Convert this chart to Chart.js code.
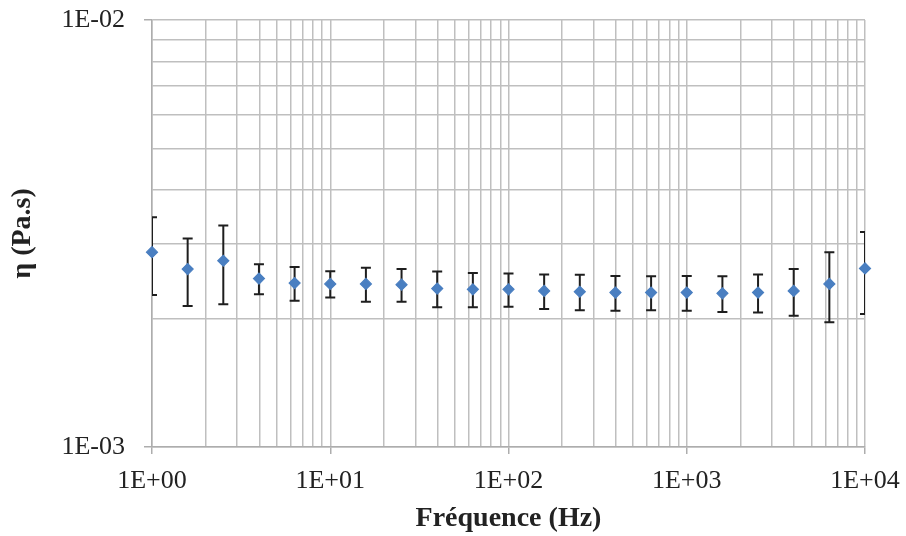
<!DOCTYPE html>
<html>
<head>
<meta charset="utf-8">
<script src="https://cdn.jsdelivr.net/npm/chart.js@4.4.1/dist/chart.umd.min.js"></script>
<style>
  html, body { margin: 0; padding: 0; background: #fff; }
  canvas { display: block; }
</style>
</head>
<body>
<canvas id="chart" width="906" height="536"></canvas>
<script>
// Fréquence (Hz) - 5 points par décade
var frequencies = [1, 1.585, 2.512, 3.981, 6.31, 10, 15.85, 25.12, 39.81, 63.1, 100,
    158.5, 251.2, 398.1, 631, 1000, 1585, 2512, 3981, 6310, 10000];

// viscosité η (Pa.s)
var viscosity = [0.00286, 0.00261, 0.00273, 0.00248, 0.00242, 0.00241, 0.00241, 0.00240, 0.00235, 0.00234, 0.00234,
    0.00232, 0.00231, 0.00230, 0.00230, 0.00230, 0.00229, 0.00230, 0.00232, 0.00241, 0.00262];

// barres d'erreur (+/-)
var viscosityError = [0.00059, 0.00047, 0.00057, 0.00020, 0.00022, 0.00017, 0.00022, 0.00021, 0.000225, 0.000215, 0.00021,
    0.000215, 0.00022, 0.000215, 0.00021, 0.000215, 0.00022, 0.000235, 0.00029, 0.00045, 0.00057];

// graduations (grille log)
var xTicks = [1, 2, 3, 4, 5, 6, 7, 8, 9,
    10, 20, 30, 40, 50, 60, 70, 80, 90,
    100, 200, 300, 400, 500, 600, 700, 800, 900,
    1000, 2000, 3000, 4000, 5000, 6000, 7000, 8000, 9000, 10000];
var yTicks = [0.001, 0.002, 0.003, 0.004, 0.005, 0.006, 0.007, 0.008, 0.009, 0.01];

var xTitle = 'Fréquence (Hz)';
var yTitle = 'η (Pa.s)';

var points = frequencies.map(function (f, i) {
    return { x: f, y: viscosity[i] };
});

function isMajor(v) {
    var l = Math.log10(v);
    return Math.abs(l - Math.round(l)) < 1e-9;
}

function sciLabel(v) {
    var e = Math.round(Math.log10(v));
    return '1E' + (e < 0 ? '-' : '+') + String(Math.abs(e)).padStart(2, '0');
}

var errorBars = {
    id: 'errorBars',
    beforeDatasetsDraw: function (chart) {
        var ctx = chart.ctx;
        var xs = chart.scales.x;
        var ys = chart.scales.y;
        var area = chart.chartArea;
        var cap = 5;
        ctx.save();
        ctx.beginPath();
        ctx.rect(area.left, area.top - 1, area.right - area.left, area.bottom - area.top + 2);
        ctx.clip();
        ctx.strokeStyle = '#1e1e1e';
        ctx.lineWidth = 2;
        frequencies.forEach(function (f, i) {
            var px = xs.getPixelForValue(f);
            var top = ys.getPixelForValue(viscosity[i] + viscosityError[i]);
            var bottom = ys.getPixelForValue(viscosity[i] - viscosityError[i]);
            ctx.beginPath();
            ctx.moveTo(px, top);
            ctx.lineTo(px, bottom);
            ctx.moveTo(px - cap, top);
            ctx.lineTo(px + cap, top);
            ctx.moveTo(px - cap, bottom);
            ctx.lineTo(px + cap, bottom);
            ctx.stroke();
        });
        ctx.restore();
    }
};

var tickFont = { family: '"Liberation Serif", serif', size: 26 };
var titleFont = { family: '"Liberation Serif", serif', size: 28, weight: 'bold' };

var ctx = document.getElementById('chart').getContext('2d');
var chart = new Chart(ctx, {
    type: 'scatter',
    data: {
        datasets: [{
            label: 'η',
            data: points,
            pointStyle: 'rectRot',
            pointRadius: 5.5,
            pointBorderWidth: 1.2,
            backgroundColor: '#4a7fc1',
            borderColor: '#4a7fc1',
            clip: false
        }]
    },
    options: {
        responsive: false,
        animation: false,
        layout: {
            padding: { top: 20, right: 41, left: 4, bottom: 0 }
        },
        plugins: {
            legend: { display: false },
            tooltip: { enabled: false }
        },
        scales: {
            x: {
                type: 'logarithmic',
                min: 1,
                max: 10000,
                afterBuildTicks: function (scale) {
                    scale.ticks = xTicks.map(function (v) { return { value: v, major: isMajor(v) }; });
                },
                afterFit: function (scale) {
                    scale.height = 89;
                    scale.paddingLeft = 0;
                    scale.paddingRight = 0;
                },
                grid: {
                    color: '#bfbfbf',
                    lineWidth: 1.5,
                    tickLength: 7,
                    tickColor: function (c) {
                        return c.tick && isMajor(c.tick.value) ? '#adadad' : 'rgba(0,0,0,0)';
                    }
                },
                border: { color: '#adadad', width: 1.5 },
                ticks: {
                    autoSkip: false,
                    maxRotation: 0,
                    padding: 12,
                    color: '#222',
                    font: tickFont,
                    callback: function (v) { return isMajor(v) ? sciLabel(v) : ''; }
                },
                title: {
                    display: true,
                    text: xTitle,
                    color: '#222',
                    font: titleFont,
                    padding: { top: 2, bottom: 0 }
                }
            },
            y: {
                type: 'logarithmic',
                min: 0.001,
                max: 0.01,
                afterBuildTicks: function (scale) {
                    scale.ticks = yTicks.map(function (v) { return { value: v, major: isMajor(v) }; });
                },
                afterFit: function (scale) {
                    scale.width = 148;
                    scale.paddingTop = 0;
                    scale.paddingBottom = 0;
                },
                grid: {
                    color: '#bfbfbf',
                    lineWidth: 1.5,
                    tickLength: 8,
                    tickColor: function (c) {
                        return c.tick && isMajor(c.tick.value) ? '#adadad' : 'rgba(0,0,0,0)';
                    }
                },
                border: { color: '#adadad', width: 1.5 },
                ticks: {
                    autoSkip: false,
                    padding: 19,
                    color: '#222',
                    font: tickFont,
                    callback: function (v) { return isMajor(v) ? sciLabel(v) : ''; }
                },
                title: {
                    display: true,
                    text: yTitle,
                    color: '#222',
                    font: titleFont,
                    padding: { top: 2, bottom: 0 }
                }
            }
        }
    },
    plugins: [errorBars]
});
</script>
</body>
</html>
